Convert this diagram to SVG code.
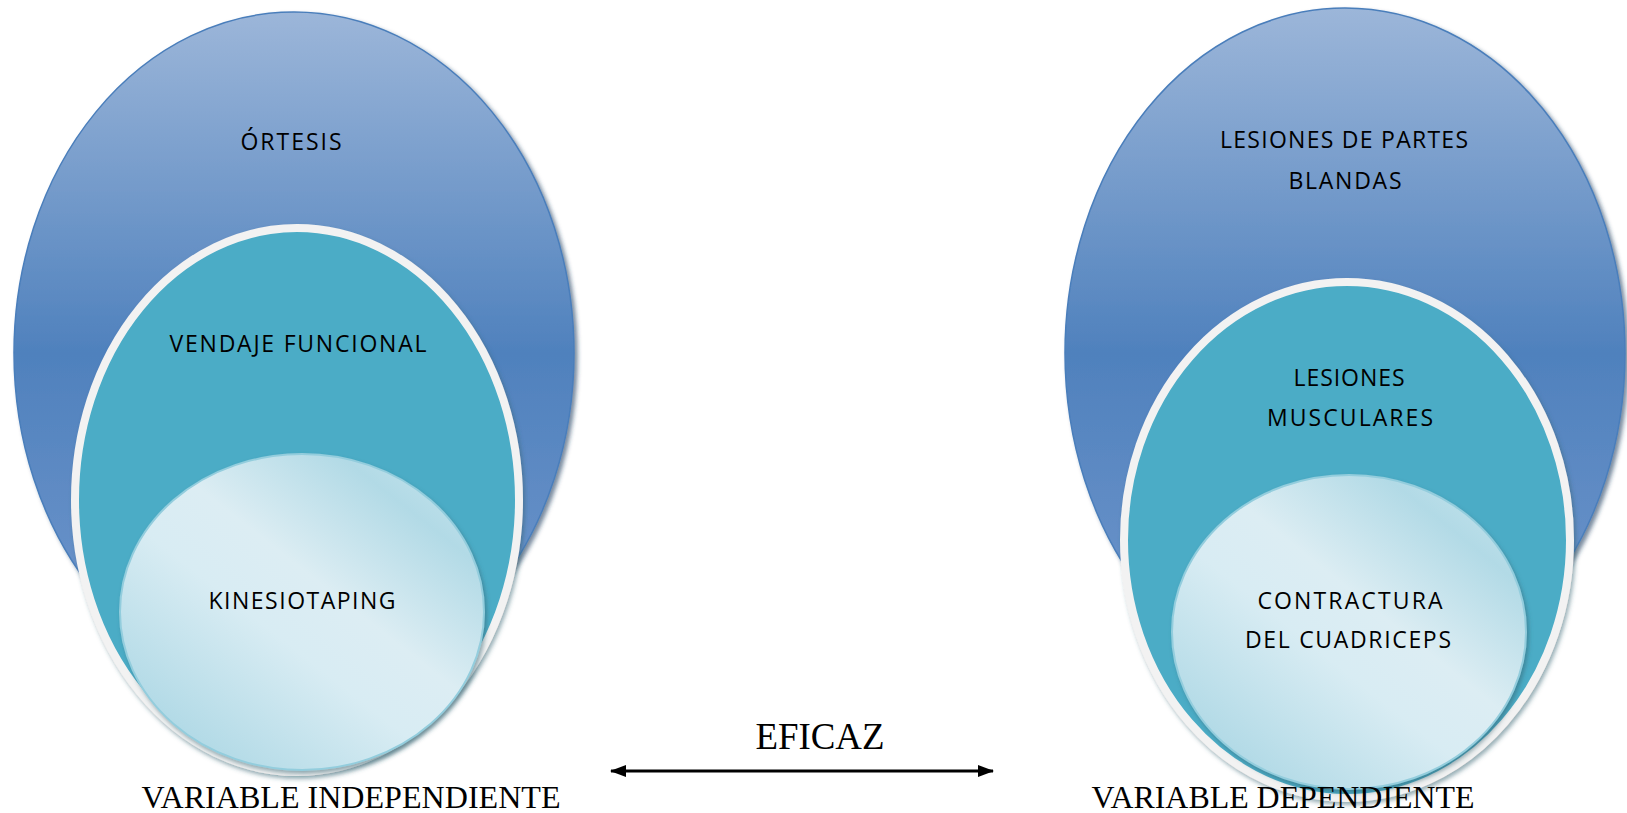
<svg xmlns="http://www.w3.org/2000/svg" width="1627" height="813" viewBox="0 0 1627 813">
<style>
.lbl{font-family:"Open Sans","Liberation Sans",sans-serif;font-size:23px;fill:#000;text-anchor:middle}
.tms{font-family:"Liberation Serif","Times New Roman",serif;fill:#000;text-anchor:middle}
.outer{fill:url(#gOuter);stroke:#4a7ebb;stroke-width:1.5;filter:url(#sh)}
.mid{fill:#4bacc6;stroke:#f2f2f2;stroke-width:8;filter:url(#sh2)}
.inner{fill:url(#gInner);stroke:#93cddd;stroke-width:2;filter:url(#sh2)}
</style>
<defs>
<linearGradient id="gOuter" x1="0" y1="0" x2="0" y2="1">
<stop offset="0" stop-color="#9cb6d9"/>
<stop offset="0.5" stop-color="#4f81bd"/>
<stop offset="0.85" stop-color="#6a92c9"/>
<stop offset="1" stop-color="#8eaddb"/>
</linearGradient>
<linearGradient id="gInner" x1="0" y1="1" x2="0.9" y2="0">
<stop offset="0" stop-color="#9fd1e0"/>
<stop offset="0.45" stop-color="#d8ecf3"/>
<stop offset="0.6" stop-color="#dcedf3"/>
<stop offset="0.85" stop-color="#b2dae6"/>
<stop offset="1" stop-color="#c6e4ed"/>
</linearGradient>
<filter id="sh" x="-10%" y="-10%" width="125%" height="125%">
<feDropShadow dx="3" dy="3" stdDeviation="2" flood-color="#1f3a5f" flood-opacity="0.6"/>
</filter>
<filter id="sh2" x="-10%" y="-10%" width="125%" height="125%">
<feDropShadow dx="2" dy="3" stdDeviation="2" flood-color="#2d5f6e" flood-opacity="0.5"/>
</filter>
<marker id="ah" viewBox="0 0 16 12" refX="15" refY="6" markerWidth="16" markerHeight="12" markerUnits="userSpaceOnUse" orient="auto-start-reverse">
<path d="M0,0 L16,6 L0,12 Z" fill="#000"/>
</marker>
</defs>

<g id="left-orthesis">
<ellipse class="outer" cx="294" cy="353" rx="280" ry="341"/>
<text class="lbl" x="291" y="150" textLength="101" lengthAdjust="spacing">ÓRTESIS</text>
</g>
<g id="left-vendaje">
<ellipse class="mid" cx="297" cy="500" rx="222" ry="272"/>
<text class="lbl" x="298" y="352" textLength="257" lengthAdjust="spacing">VENDAJE FUNCIONAL</text>
</g>
<g id="left-kinesio">
<ellipse class="inner" cx="302" cy="612" rx="182" ry="158"/>
<text class="lbl" x="302" y="609" textLength="187" lengthAdjust="spacing">KINESIOTAPING</text>
</g>

<g id="right-lesiones-partes">
<ellipse class="outer" cx="1345" cy="353" rx="280" ry="345"/>
<text class="lbl" x="1344" y="148" textLength="248" lengthAdjust="spacing">LESIONES DE PARTES</text>
<text class="lbl" x="1345" y="189" textLength="113" lengthAdjust="spacing">BLANDAS</text>
</g>
<g id="right-lesiones-musc">
<ellipse class="mid" cx="1347" cy="540" rx="223" ry="258"/>
<text class="lbl" x="1349" y="386" textLength="111" lengthAdjust="spacing">LESIONES</text>
<text class="lbl" x="1350" y="426" textLength="166" lengthAdjust="spacing">MUSCULARES</text>
</g>
<g id="right-contractura">
<ellipse class="inner" cx="1349" cy="632" rx="177" ry="157"/>
<text class="lbl" x="1350" y="609" textLength="185" lengthAdjust="spacing">CONTRACTURA</text>
<text class="lbl" x="1348" y="648" textLength="206" lengthAdjust="spacing">DEL CUADRICEPS</text>
</g>

<g id="connectors">
<line x1="611" y1="771" x2="993" y2="771" stroke="#000" stroke-width="3" marker-start="url(#ah)" marker-end="url(#ah)"/>
</g>

<g id="labels">
<text class="tms" x="820" y="749" font-size="37" textLength="129" lengthAdjust="spacingAndGlyphs">EFICAZ</text>
<text class="tms" x="351" y="808" font-size="32" textLength="419" lengthAdjust="spacingAndGlyphs">VARIABLE INDEPENDIENTE</text>
<text class="tms" x="1283" y="808" font-size="32" textLength="383" lengthAdjust="spacingAndGlyphs">VARIABLE DEPENDIENTE</text>
</g>
</svg>
